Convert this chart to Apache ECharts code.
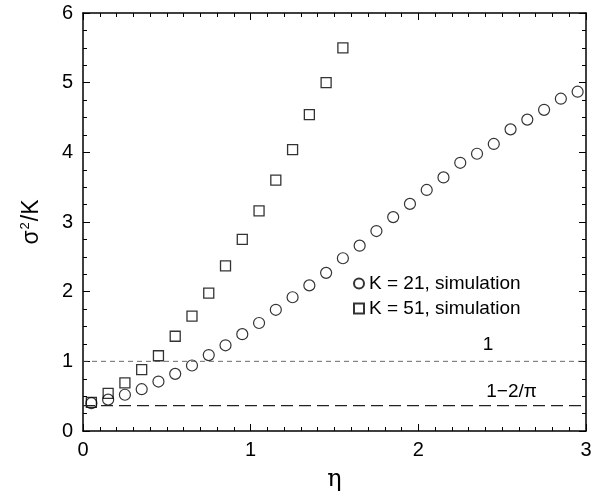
<!DOCTYPE html>
<html>
<head>
<meta charset="utf-8">
<script src="https://cdn.jsdelivr.net/npm/echarts@6/dist/echarts.min.js"></script>
<style>
html,body{margin:0;padding:0;background:#fff;}
#main{width:608px;height:497px;}
</style>
</head>
<body>
<div id="main"></div>
<script>
// K = 21 simulation (circles)
var etaK21 = [0.05,0.15,0.25,0.35,0.45,0.55,0.65,0.75,0.85,0.95,1.05,1.15,1.25,1.35,1.45,
    1.55,1.65,1.75,1.85,1.95,2.05,2.15,2.25,2.35,2.45,2.55,2.65,2.75,2.85,2.95];
var sigmaK21 = [0.40,0.45,0.52,0.60,0.71,0.82,0.94,1.09,1.23,1.39,1.55,1.74,1.92,2.09,2.27,
    2.48,2.66,2.87,3.07,3.26,3.46,3.64,3.85,3.98,4.12,4.33,4.47,4.61,4.77,4.87];
// K = 51 simulation (squares)
var etaK51 = [0.05,0.15,0.25,0.35,0.45,0.55,0.65,0.75,0.85,0.95,1.05,1.15,1.25,1.35,1.45,1.55];
var sigmaK51 = [0.41,0.54,0.69,0.88,1.08,1.36,1.65,1.98,2.37,2.75,3.16,3.60,4.04,4.54,5.00,5.50];
// reference levels: 1 and 1-2/pi
var refLevels = [1, 0.3634];
var refLabels = ['1', '1\u22122/\u03c0'];
var xTicks = [0, 1, 2, 3];
var yTicks = [0, 1, 2, 3, 4, 5, 6];

var FONT = 'Liberation Sans, Arial, sans-serif';

function pairs(xs, ys) {
    var out = [];
    for (var i = 0; i < xs.length; i++) out.push([xs[i], ys[i]]);
    return out;
}

var myChart = echarts.init(document.getElementById('main'));

var axisCommon = {
    axisLine: {show: true, onZero: false, lineStyle: {color: '#000', width: 1.5}},
    axisTick: {show: true, inside: true, length: 7, lineStyle: {color: '#000', width: 1}},
    splitLine: {show: false}
};

var option = {
    animation: false,
    backgroundColor: '#fff',
    textStyle: {fontFamily: FONT},
    grid: {left: 83, right: 22, top: 13, bottom: 64},
    legend: {
        data: ['K = 21, simulation', 'K = 51, simulation'],
        orient: 'vertical',
        left: 348,
        top: 269,
        itemWidth: 10,
        itemHeight: 10,
        itemGap: 6,
        textStyle: {fontSize: 19, color: '#000', fontFamily: FONT}
    },
    xAxis: [
        Object.assign({
            type: 'value', min: xTicks[0], max: xTicks[xTicks.length - 1], interval: 1,
            position: 'bottom',
            name: '\u03b7', nameLocation: 'middle', nameGap: 37,
            nameTextStyle: {fontSize: 24, color: '#000', fontFamily: 'DejaVu Serif'},
            axisLabel: {fontSize: 20, color: '#000', margin: 9, fontFamily: FONT}
        }, axisCommon, {minorTick: {show: true, splitNumber: 10, length: 4, lineStyle: {color: '#000'}}}),
        Object.assign({
            type: 'value', min: 0, max: 3, interval: 1, position: 'top',
            axisLabel: {show: false}
        }, axisCommon, {minorTick: {show: true, splitNumber: 10, length: 4, lineStyle: {color: '#000'}}})
    ],
    yAxis: [
        Object.assign({
            type: 'value', min: yTicks[0], max: yTicks[yTicks.length - 1], interval: 1,
            position: 'left',
            name: '{a|\u03c3}{s|2}{a|/K}', nameLocation: 'middle', nameGap: 39,
            nameTextStyle: {
                color: '#000',
                rich: {
                    a: {fontSize: 23, fontFamily: FONT, color: '#000'},
                    s: {fontSize: 13, fontFamily: FONT, color: '#000', padding: [0, 1, 12, 1]}
                }
            },
            axisLabel: {fontSize: 20, color: '#000', margin: 10, fontFamily: FONT}
        }, axisCommon, {minorTick: {show: true, splitNumber: 4, length: 4, lineStyle: {color: '#000'}}}),
        Object.assign({
            type: 'value', min: 0, max: 6, interval: 1, position: 'right',
            axisLabel: {show: false}
        }, axisCommon, {minorTick: {show: true, splitNumber: 4, length: 4, lineStyle: {color: '#000'}}})
    ],
    series: [
        {
            name: 'ref1', type: 'line', silent: true, symbol: 'none',
            data: [[0, refLevels[0]], [3, refLevels[0]]],
            lineStyle: {color: '#444', width: 0.8, type: [5, 4]}
        },
        {
            name: 'ref2', type: 'line', silent: true, symbol: 'none',
            data: [[0, refLevels[1]], [3, refLevels[1]]],
            lineStyle: {color: '#222', width: 1.3, type: [12, 6]}
        },
        {
            name: 'K = 51, simulation', type: 'scatter', symbol: 'rect', symbolSize: 10,
            data: pairs(etaK51, sigmaK51),
            itemStyle: {color: 'rgba(255,255,255,0)', borderColor: '#000', borderWidth: 1.3}
        },
        {
            name: 'K = 21, simulation', type: 'scatter', symbol: 'circle', symbolSize: 11,
            data: pairs(etaK21, sigmaK21),
            itemStyle: {color: 'rgba(255,255,255,0)', borderColor: '#000', borderWidth: 1.2}
        }
    ]
};

myChart.setOption(option);

// labels of the two reference lines, placed in data coordinates
var labelPos = [[2.415, 1.24], [2.556, 0.57]];
var texts = [];
for (var i = 0; i < refLabels.length; i++) {
    var p = myChart.convertToPixel({gridIndex: 0}, labelPos[i]);
    texts.push({
        type: 'text', x: p[0], y: p[1],
        style: {text: refLabels[i], fontSize: 19, fontFamily: FONT, fill: '#000',
            textAlign: 'center', textVerticalAlign: 'middle'}
    });
}
myChart.setOption({graphic: texts});
</script>
</body>
</html>
